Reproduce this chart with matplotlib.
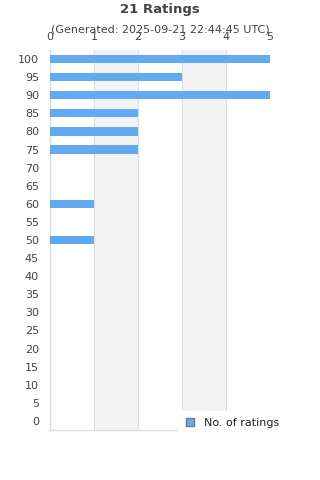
import matplotlib
matplotlib.use("Agg")
import matplotlib.pyplot as plt
from matplotlib.patches import Patch, Rectangle

categories = list(range(100, -1, -5))
counts = [5, 3, 5, 2, 2, 2, 0, 0, 1, 0, 1, 0, 0, 0, 0, 0, 0, 0, 0, 0, 0]
x_ticks = [0, 1, 2, 3, 4, 5]
title = "21 Ratings"
subtitle = "(Generated: 2025-09-21 22:44:45 UTC)"
series_name = "No. of ratings"

bar_color = "#63a9f2"
text_color = "#444444"
grid_color = "#dddddd"

fig = plt.figure(figsize=(3.2, 4.8), dpi=100)
ax = fig.add_axes([50/320, 1-430/480, 220/320, 380/480])

n = len(categories)
ypos = list(range(n))
ax.barh(ypos, counts, height=0.45, color=bar_color, zorder=3)
ax.set_ylim(n - 0.5, -0.5)
ax.set_xlim(0, 5)

for i in range(5):
    if i % 2 == 1:
        ax.axvspan(i, i + 1, color="#f3f3f3", zorder=0, lw=0)
for t in x_ticks:
    ax.axvline(t, color=grid_color, lw=0.8, zorder=1)

ax.set_yticks(ypos)
ax.set_yticklabels([str(c) for c in categories])
ax.set_xticks(x_ticks)
ax.xaxis.tick_top()
ax.tick_params(axis="both", length=0, labelsize=8, colors=text_color)
ax.tick_params(axis="x", pad=5.5)
ax.tick_params(axis="y", pad=8)

for s in ["top", "right"]:
    ax.spines[s].set_visible(False)
for s in ["left", "bottom"]:
    ax.spines[s].set_color("#dddddd")
    ax.spines[s].set_linewidth(1)

fig.text(0.5, 1 - 10/480, title, ha="center", va="center", fontsize=9.5,
         fontweight="bold", color=text_color)
fig.text(0.5, 1 - 30/480, subtitle, ha="center", va="center", fontsize=8,
         color=text_color)

# white legend background box covering the lower right of the plot
fig.patches.append(Rectangle((178/320, 0), 142/320, 1 - 411/480,
                             transform=fig.transFigure, facecolor="white",
                             edgecolor="none", zorder=5))

handle = Patch(facecolor=bar_color, edgecolor="#777777", linewidth=1)
leg = fig.legend([handle], [series_name], loc="center left",
                 bbox_to_anchor=(180/320, 1 - 423/480), frameon=False,
                 fontsize=8, handlelength=0.75, handleheight=0.75,
                 borderpad=0.0, handletextpad=0.9)
leg.set_zorder(6)
for t in leg.get_texts():
    t.set_color("#222222")

fig.savefig("out.png", dpi=100)
